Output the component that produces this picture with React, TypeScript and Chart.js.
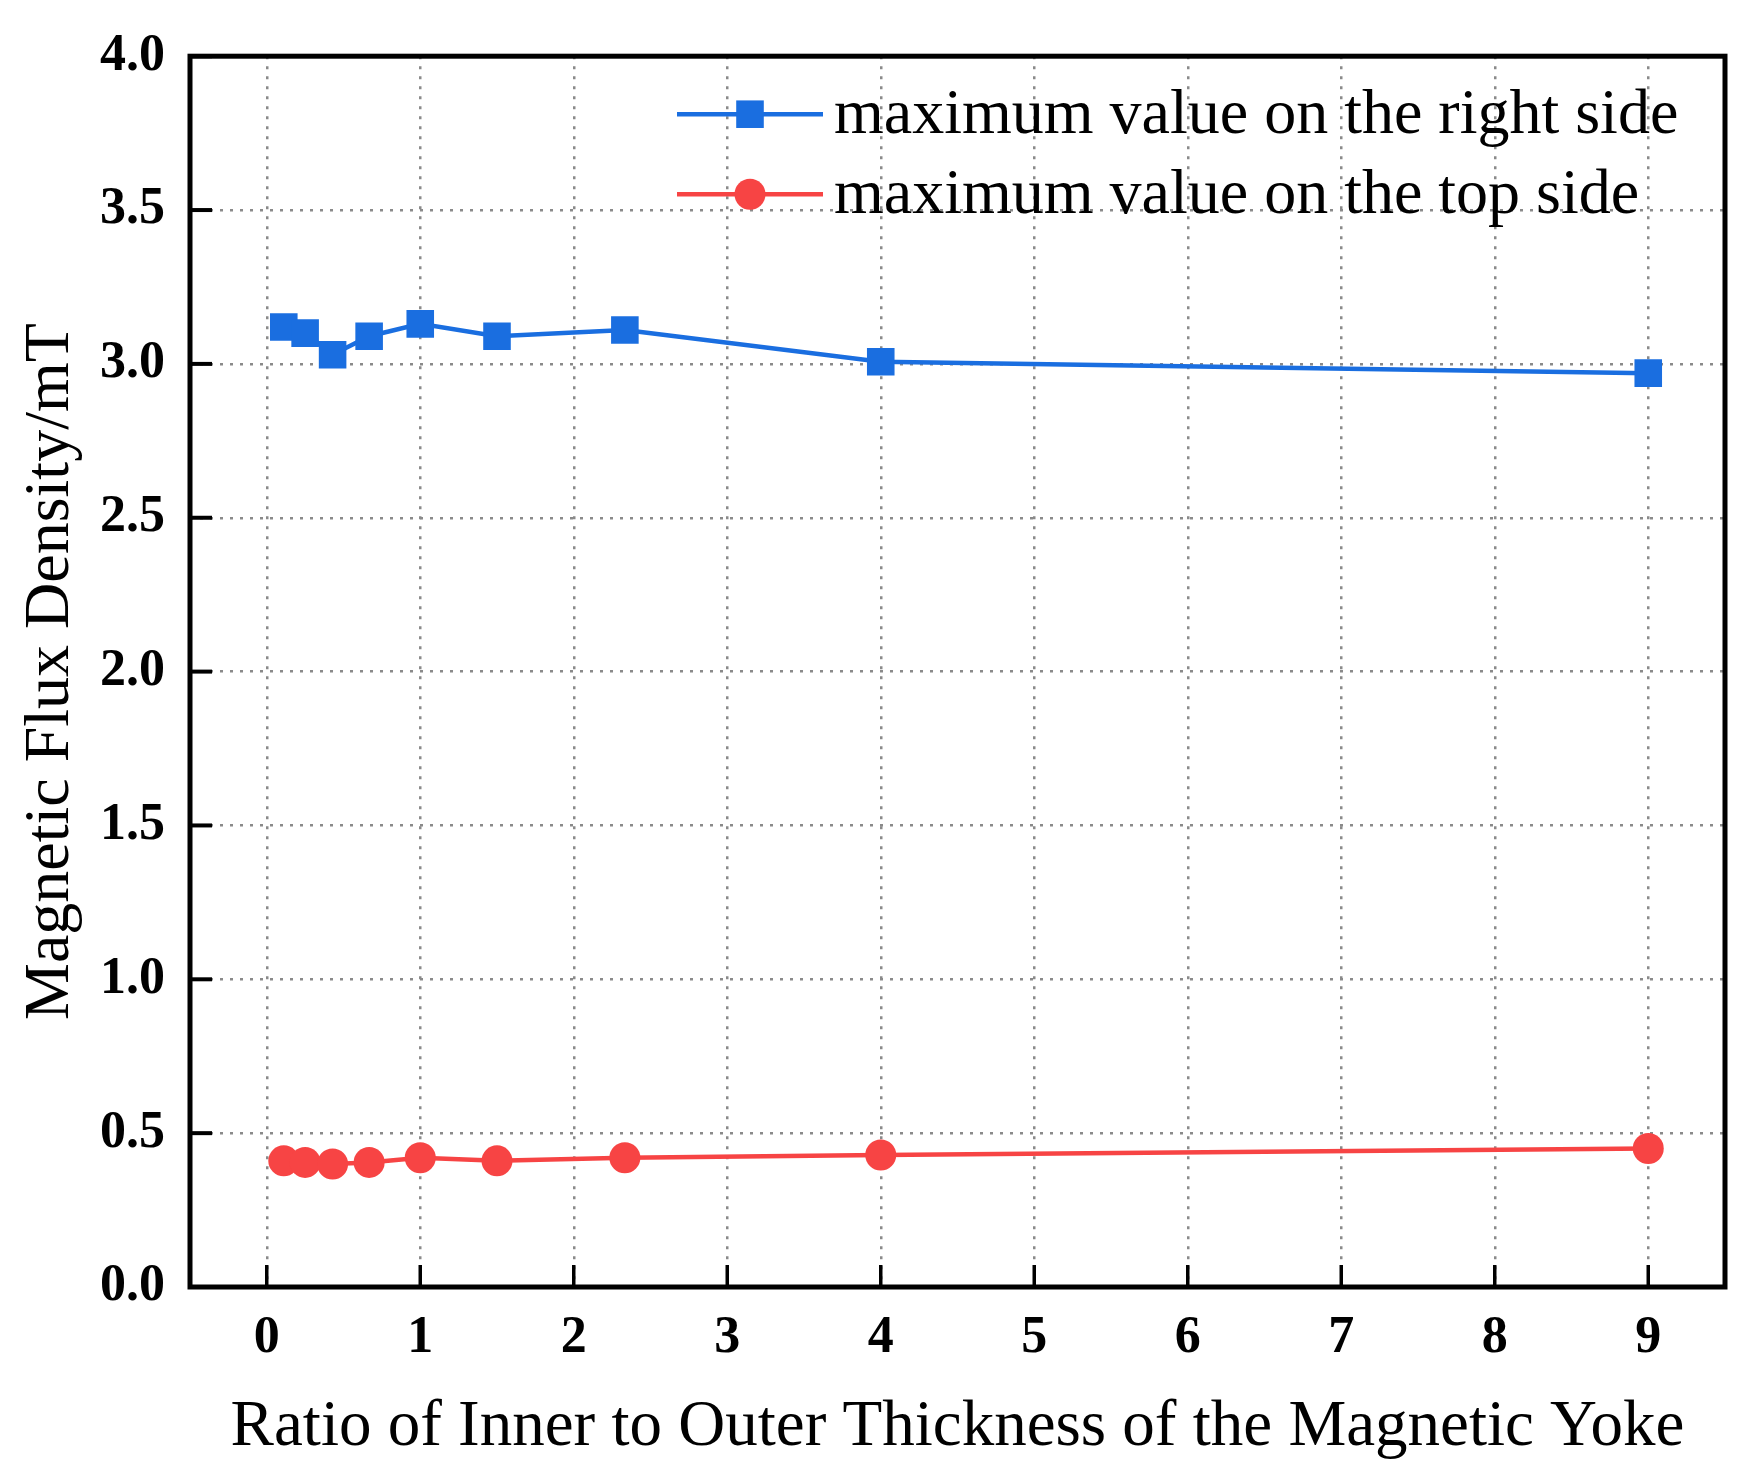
import { useEffect, useRef } from "react"
import Chart from "chart.js/auto"

// thickness ratio (inner / outer) on the x axis
const ratios = [0.111, 0.25, 0.429, 0.667, 1, 1.5, 2.333, 4, 9]
const rightSide = [3.12, 3.1, 3.03, 3.09, 3.13, 3.09, 3.11, 3.007, 2.97]
const topSide = [0.41, 0.405, 0.4, 0.405, 0.42, 0.41, 0.42, 0.429, 0.45]
const xTicks = [0, 1, 2, 3, 4, 5, 6, 7, 8, 9]
const seriesNames = ["maximum value on the right side", "maximum value on the top side"]

const BLUE = "#1a6ee0"
const RED = "#f74444"
const SERIF = "'Liberation Serif', 'Times New Roman', serif"

const framePlugin = {
  id: "frame",
  afterDraw(chart: any) {
    const { ctx, chartArea: a, scales } = chart
    ctx.save()
    ctx.strokeStyle = "#000"
    // inward ticks
    ctx.lineWidth = 4
    scales.y.ticks.forEach((t: any) => {
      const y = scales.y.getPixelForValue(t.value)
      ctx.beginPath()
      ctx.moveTo(a.left, y)
      ctx.lineTo(a.left + 22, y)
      ctx.stroke()
    })
    ctx.lineWidth = 3.5
    scales.x.ticks.forEach((t: any) => {
      const x = scales.x.getPixelForValue(t.value)
      ctx.beginPath()
      ctx.moveTo(x, a.bottom)
      ctx.lineTo(x, a.bottom - 22)
      ctx.stroke()
    })
    ctx.lineWidth = 5
    ctx.strokeRect(a.left, a.top, a.right - a.left, a.bottom - a.top)

    // legend
    const lx = a.left + 487
    const rows = [a.top + 58, a.top + 138]
    chart.data.datasets.forEach((ds: any, i: number) => {
      const y = rows[i]
      ctx.strokeStyle = ds.borderColor
      ctx.lineWidth = ds.borderWidth
      ctx.beginPath()
      ctx.moveTo(lx, y)
      ctx.lineTo(lx + 146, y)
      ctx.stroke()
      ctx.fillStyle = ds.backgroundColor
      if (ds.pointStyle === "rect") {
        const s = ds.pointRadius * Math.SQRT1_2
        ctx.fillRect(lx + 73 - s, y - s, 2 * s, 2 * s)
      } else {
        ctx.beginPath()
        ctx.arc(lx + 73, y, ds.pointRadius, 0, Math.PI * 2)
        ctx.fill()
      }
      ctx.fillStyle = "#000"
      ctx.font = `64px ${SERIF}`
      ctx.textBaseline = "middle"
      ctx.textAlign = "left"
      ctx.fillText(ds.label, lx + 157, y + 2)
    })
    ctx.restore()
  },
}

export default function App() {
  const canvasRef = useRef<HTMLCanvasElement>(null)

  useEffect(() => {
    document.body.style.margin = "0"
    document.body.style.overflow = "hidden"
    if (!canvasRef.current) return
    const grid = {
      color: "#8a8a8a",
      lineWidth: 2.5,
      drawTicks: false,
    }
    const chart = new Chart(canvasRef.current, {
      type: "line",
      data: {
        datasets: [
          {
            label: seriesNames[0],
            data: ratios.map((x, i) => ({ x, y: rightSide[i] })),
            borderColor: BLUE,
            backgroundColor: BLUE,
            borderWidth: 4.5,
            pointStyle: "rect",
            pointRadius: 19.5,
            pointHoverRadius: 19.5,
            pointBorderWidth: 0,
          },
          {
            label: seriesNames[1],
            data: ratios.map((x, i) => ({ x, y: topSide[i] })),
            borderColor: RED,
            backgroundColor: RED,
            borderWidth: 4.5,
            pointStyle: "circle",
            pointRadius: 15.5,
            pointHoverRadius: 15.5,
            pointBorderWidth: 0,
          },
        ],
      },
      options: {
        responsive: false,
        animation: false,
        devicePixelRatio: 1,
        layout: { padding: { top: 50, right: 23, left: 0, bottom: 0 } },
        plugins: { legend: { display: false }, tooltip: { enabled: false } },
        scales: {
          x: {
            type: "linear",
            min: -0.5,
            max: 9.5,
            afterBuildTicks: (s: any) => {
              s.ticks = xTicks.map((v) => ({ value: v }))
            },
            afterFit: (s: any) => {
              s.height = 194
            },
            grid: grid as any,
            border: { display: false, dash: [3, 7] },
            ticks: {
              color: "#000",
              padding: 20,
              font: { family: SERIF, size: 52, weight: "bold" },
            },
            title: {
              display: true,
              text: "Ratio of Inner to Outer Thickness of the Magnetic Yoke",
              color: "#000",
              font: { family: SERIF, size: 65 },
              padding: { top: 0, bottom: 14 },
            },
          },
          y: {
            min: 0,
            max: 4,
            afterFit: (s: any) => {
              s.width = 190
            },
            grid: grid as any,
            border: { display: false, dash: [3, 7] },
            ticks: {
              stepSize: 0.5,
              color: "#000",
              padding: 25,
              font: { family: SERIF, size: 52, weight: "bold" },
              callback: (v: any) => Number(v).toFixed(1),
            },
            title: {
              display: true,
              text: "Magnetic Flux Density/mT",
              color: "#000",
              font: { family: SERIF, size: 64 },
              padding: { top: 13, bottom: 0 },
            },
          },
        },
      },
      plugins: [framePlugin],
    })
    return () => chart.destroy()
  }, [])

  return (
    <div style={{ width: 1748, height: 1481, background: "#fff" }}>
      <canvas ref={canvasRef} width={1748} height={1481} />
    </div>
  )
}
